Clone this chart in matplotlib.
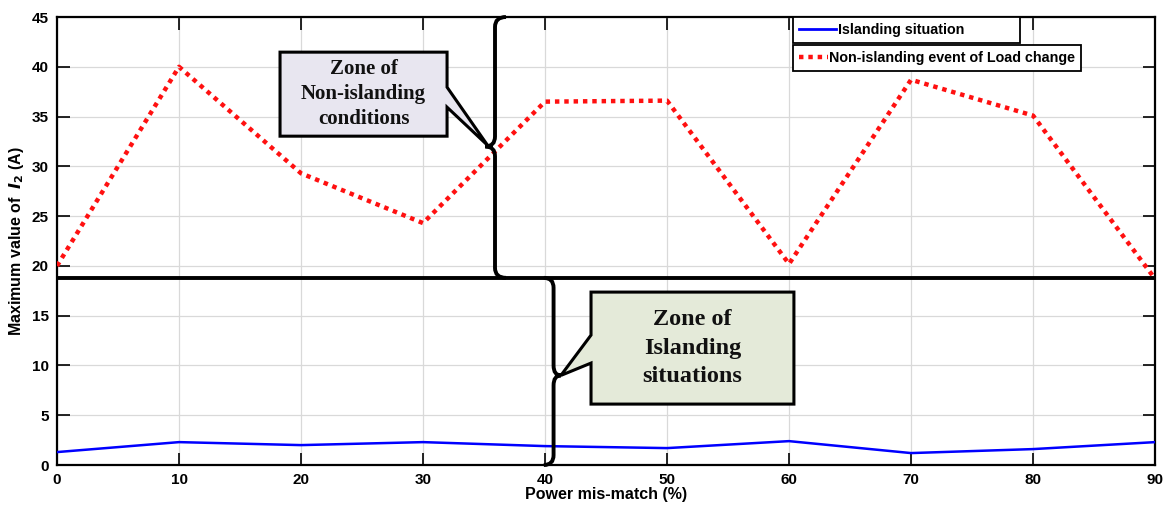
import numpy as np
import matplotlib.pyplot as plt
from matplotlib.path import Path
from matplotlib.patches import PathPatch, Polygon
from matplotlib.lines import Line2D

# data
mismatch = [0, 10, 20, 30, 40, 50, 60, 70, 80, 90]
islanding = [1.3, 2.3, 2.0, 2.3, 1.9, 1.7, 2.4, 1.2, 1.6, 2.3]
load_change = [20.0, 40.0, 29.3, 24.3, 36.5, 36.6, 20.2, 38.7, 35.1, 18.7]
threshold = 18.8

plt.rcParams['font.family'] = ['Liberation Sans', 'DejaVu Sans']
plt.rcParams['font.weight'] = 'bold'

fig = plt.figure(figsize=(11.73, 5.09), dpi=100)
ax = fig.add_axes([0.0486, 0.0864, 0.9361, 0.8802])

ax.plot(mismatch, islanding, color='#0000ff', lw=1.8, zorder=3)
ax.plot(mismatch, load_change, color='#ff1010', lw=3.2, ls=(0, (1, 1.1)), zorder=3)
ax.axhline(threshold, color='black', lw=2.8, zorder=4)

ax.set_xlim(0, 90)
ax.set_ylim(0, 45)
ax.set_xticks(range(0, 91, 10))
ax.set_yticks(range(0, 46, 5))
ax.grid(True, color='#d9d9d9', lw=0.9)
ax.tick_params(direction='in', length=9, width=1.2, top=True, right=True,
               labelsize=11, pad=6)
for lab in ax.get_xticklabels() + ax.get_yticklabels():
    lab.set_fontweight('bold')
for s in ax.spines.values():
    s.set_linewidth(1.6)

ax.set_xlabel('Power mis-match (%)', fontsize=11.5, fontweight='bold', labelpad=0)
ax.set_ylabel('Maximum value of  $\\mathbf{\\mathit{I}_2}$ (A)', fontsize=11.5,
              fontweight='bold', labelpad=4)


# curly braces
def brace(x, y_top, y_bot, y_tip, x_tip, dx, dy):
    # dx: horizontal size of end curls (sign gives direction)
    verts = [(x + dx, y_top), (x, y_top), (x, y_top - dy),
             (x, y_tip + dy), (x, y_tip), (x_tip, y_tip),
             (x, y_tip), (x, y_tip - dy),
             (x, y_bot + dy), (x, y_bot), (x + dx, y_bot)]
    codes = [Path.MOVETO, Path.CURVE3, Path.CURVE3,
             Path.LINETO, Path.CURVE3, Path.CURVE3,
             Path.CURVE3, Path.CURVE3,
             Path.LINETO, Path.CURVE3, Path.CURVE3]
    ax.add_patch(PathPatch(Path(verts, codes), fill=False, lw=2.8,
                           ec='black', zorder=5, clip_on=False))


brace(35.9, 45.0, threshold, 32.0, 35.1, 0.9, 1.0)
brace(40.7, threshold, 0.0, 9.0, 41.3, -0.8, 1.0)

# callout boxes
box1 = [(18.28, 41.47), (31.97, 41.47), (31.97, 37.95), (35.3, 32.1),
        (31.97, 35.94), (31.97, 33.03), (18.28, 33.03)]
ax.add_patch(Polygon(box1, closed=True, fc='#e8e6f0', ec='black', lw=2.2, zorder=6))
ax.text((18.28 + 31.97) / 2, (41.47 + 33.03) / 2, 'Zone of\nNon-islanding\nconditions',
        ha='center', va='center', family=['Liberation Serif'], fontweight='bold',
        fontsize=15, linespacing=1.35, color='#111111', zorder=7)

box2 = [(43.77, 17.37), (60.4, 17.37), (60.4, 6.12), (43.77, 6.12),
        (43.77, 10.24), (41.3, 9.0), (43.77, 13.05)]
ax.add_patch(Polygon(box2, closed=True, fc='#e4ead9', ec='black', lw=2.2, zorder=6))
ax.text((43.77 + 60.4) / 2, (17.37 + 6.12) / 2, 'Zone of\nIslanding\nsituations',
        ha='center', va='center', family=['Liberation Serif'], fontweight='bold',
        fontsize=17.5, linespacing=1.45, color='#111111', zorder=7)

# legend drawn as two stacked boxes
h1 = Line2D([], [], color='#0000ff', lw=2)
h2 = Line2D([], [], color='#ff1010', lw=3.2, ls=(0, (1, 1.1)))
leg1 = ax.legend([h1], ['Islanding situation'], loc='upper left', mode='expand',
                 bbox_to_anchor=(793 / 1173, 1 - 45 / 509, 227 / 1173, 28 / 509),
                 bbox_transform=fig.transFigure,
                 fancybox=False, edgecolor='black', framealpha=1, fontsize=10.3,
                 handlelength=2.6, handletextpad=0.1, borderpad=0.42, borderaxespad=0)
leg1.get_frame().set_linewidth(1.3)
leg1.set_zorder(8)
ax.add_artist(leg1)
leg2 = ax.legend([h2], ['Non-islanding event of Load change'], loc='upper left',
                 bbox_to_anchor=(793 / 1173, 1 - 45 / 509), bbox_transform=fig.transFigure,
                 fancybox=False, edgecolor='black', framealpha=1, fontsize=10.3,
                 handlelength=2.0, handletextpad=0.1, borderpad=0.42, borderaxespad=0)
leg2.get_frame().set_linewidth(1.3)
leg2.set_zorder(8)
for leg in (leg1, leg2):
    for t in leg.get_texts():
        t.set_fontweight('bold')

fig.savefig('out.png', dpi=100)
